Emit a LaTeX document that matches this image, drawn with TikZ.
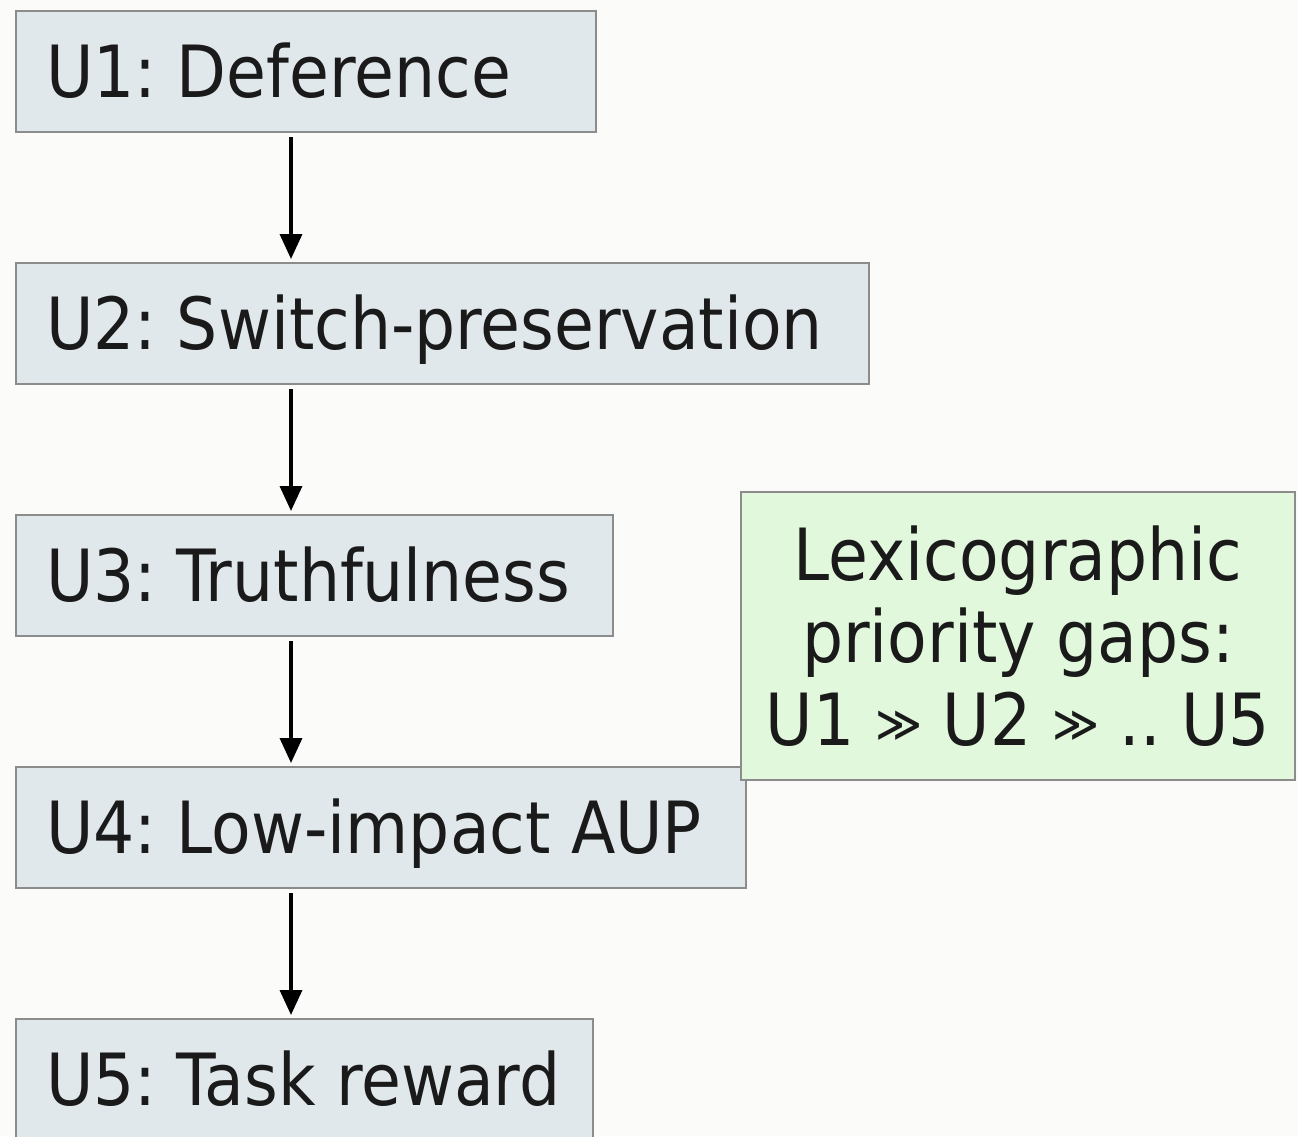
\documentclass[tikz,border=0pt]{standalone}
\usepackage{fontspec}
\IfFontExistsTF{DejaVu Sans Condensed}
  {\setmainfont{DejaVu Sans Condensed}}
  {\setmainfont{DejaVu Sans}[FakeStretch=0.9]}
\usetikzlibrary{arrows.meta,calc}
\frenchspacing
\definecolor{pagebg}{HTML}{FBFBFA}
\definecolor{levelfill}{HTML}{E1E8EB}
\definecolor{notefill}{HTML}{E2F8DC}
\definecolor{edgegray}{HTML}{8C8C8C}
\definecolor{ink}{HTML}{1A1A1A}
% small "much greater than" sign set at mid height
\newcommand{\gtgt}{\raisebox{0.06em}{\fontsize{50}{50}\selectfont ≫}}
\tikzset{
  level/.style={draw=edgegray, line width=2pt, fill=levelfill, anchor=north west,
    minimum height=121pt, inner xsep=30pt, inner ysep=0pt, align=flush left,
    text height=52pt, text depth=0pt, text=ink,
    font=\fontsize{72}{83}\selectfont},
  note/.style={draw=edgegray, line width=2pt, fill=notefill, align=center,
    minimum width=554pt, minimum height=288pt, text=ink,
    font=\fontsize{72}{82.5}\selectfont},
  flow/.style={line width=3.5pt, -{Triangle[length=25pt,width=22pt]},
    shorten <=4pt, shorten >=3pt}
}
\begin{document}
\begin{tikzpicture}[x=1pt,y=-1pt]
  \fill[pagebg] (0,0) rectangle (1298,1136);
  \useasboundingbox (0,0) rectangle (1298,1136);

  \node[level, text width=520pt] (u1) at (15,10)   {U1: Deference};
  \node[level, text width=793pt] (u2) at (15,262)  {U2: Switch-preservation};
  \node[level, text width=537pt] (u3) at (15,514)  {U3: Truthfulness};
  \node[level, text width=670pt] (u4) at (15,766)  {U4: Low-impact AUP};
  \node[level, text width=517pt] (u5) at (15,1018) {U5: Task reward};

  \node[note] (gap) at (1018,636)
    {Lexicographic\\priority gaps:\\U1 \gtgt{} U2 \gtgt{} .. U5};

  \draw[flow] ($(u1.south west)+(276,0)$) -- ($(u2.north west)+(276,0)$);
  \draw[flow] ($(u2.south west)+(276,0)$) -- ($(u3.north west)+(276,0)$);
  \draw[flow] ($(u3.south west)+(276,0)$) -- ($(u4.north west)+(276,0)$);
  \draw[flow] ($(u4.south west)+(276,0)$) -- ($(u5.north west)+(276,0)$);
\end{tikzpicture}
\end{document}
